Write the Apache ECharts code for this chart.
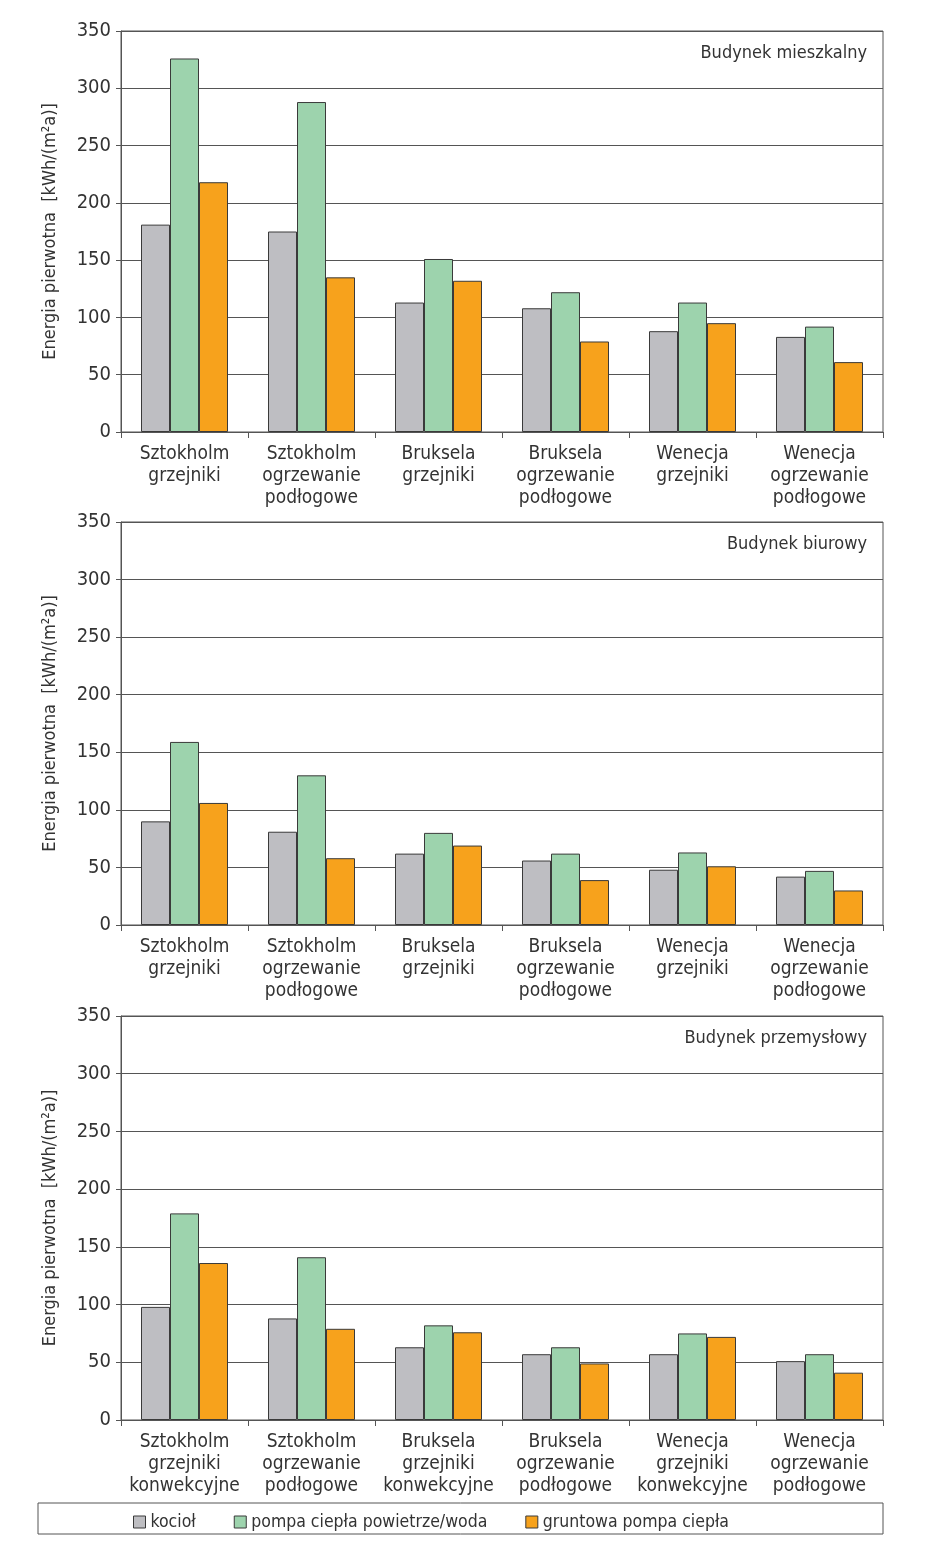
<!DOCTYPE html>
<html>
<head>
<meta charset="utf-8">
<title>Energia pierwotna</title>
<script src="https://cdn.jsdelivr.net/npm/echarts@6/dist/echarts.min.js"></script>
<style>
    html, body { margin: 0; padding: 0; background: #fff; }
    #chart { width: 938px; height: 1567px; }
</style>
</head>
<body>
<div id="chart"></div>
<script>
// kategorie
var catsA = ['Sztokholm\ngrzejniki', 'Sztokholm\nogrzewanie\npodłogowe', 'Bruksela\ngrzejniki',
    'Bruksela\nogrzewanie\npodłogowe', 'Wenecja\ngrzejniki', 'Wenecja\nogrzewanie\npodłogowe'];
var catsC = ['Sztokholm\ngrzejniki\nkonwekcyjne', 'Sztokholm\nogrzewanie\npodłogowe', 'Bruksela\ngrzejniki\nkonwekcyjne',
    'Bruksela\nogrzewanie\npodłogowe', 'Wenecja\ngrzejniki\nkonwekcyjne', 'Wenecja\nogrzewanie\npodłogowe'];

var seriesNames = ['kocioł', 'pompa ciepła powietrze/woda', 'gruntowa pompa ciepła'];
var panelTitles = ['Budynek mieszkalny', 'Budynek biurowy', 'Budynek przemysłowy'];
var yTicks = [0, 50, 100, 150, 200, 250, 300, 350];

// budynek mieszkalny
var mieszKociol = [181, 175, 113, 108, 88, 83];
var mieszPowietrze = [326, 288, 151, 122, 113, 92];
var mieszGrunt = [218, 135, 132, 79, 95, 61];

// budynek biurowy
var biurKociol = [90, 81, 62, 56, 48, 42];
var biurPowietrze = [159, 130, 80, 62, 63, 47];
var biurGrunt = [106, 58, 69, 39, 51, 30];

// budynek przemyslowy
var przemKociol = [98, 88, 63, 57, 57, 51];
var przemPowietrze = [179, 141, 82, 63, 75, 57];
var przemGrunt = [136, 79, 76, 49, 72, 41];

(function (window) {
    var FONT = '"Liberation Sans Narrow", "DejaVu Sans Condensed", "Liberation Sans", sans-serif';
    var TEXT = '#333';
    var LINE = '#555';
    var colors = ['#bebec2', '#9dd3ad', '#f7a21c'];

    var panels = [
        { cats: catsA, data: [mieszKociol, mieszPowietrze, mieszGrunt], top: 31, height: 401 },
        { cats: catsA, data: [biurKociol, biurPowietrze, biurGrunt], top: 522, height: 403 },
        { cats: catsC, data: [przemKociol, przemPowietrze, przemGrunt], top: 1016, height: 404 }
    ];

    var grids = [], xAxes = [], yAxes = [], series = [], titles = [];

    panels.forEach(function (p, i) {
        grids.push({
            left: 121, width: 762, top: p.top, height: p.height,
            show: true, borderColor: LINE, borderWidth: 1, backgroundColor: 'transparent'
        });
        titles.push({
            text: panelTitles[i],
            right: 66, top: p.top + 8,
            textStyle: { fontFamily: FONT, fontSize: 18, fontWeight: 'normal', color: TEXT }
        });
        xAxes.push({
            type: 'category', gridIndex: i, data: p.cats,
            axisLine: { lineStyle: { color: LINE } },
            axisTick: { show: true, length: 6, lineStyle: { color: LINE } },
            axisLabel: { fontFamily: FONT, fontSize: 19, color: TEXT, lineHeight: 22, margin: 11, interval: 0 }
        });
        yAxes.push({
            type: 'value', gridIndex: i, min: yTicks[0], max: yTicks[yTicks.length - 1], interval: 50,
            name: 'Energia pierwotna  [kWh/(m²a)]',
            nameLocation: 'middle', nameGap: 62,
            nameTextStyle: { fontFamily: FONT, fontSize: 18, color: TEXT },
            axisLine: { show: true, lineStyle: { color: LINE } },
            axisTick: { show: true, length: 5, lineStyle: { color: LINE } },
            axisLabel: { fontFamily: FONT, fontSize: 20, color: TEXT, margin: 10 },
            splitLine: { lineStyle: { color: LINE, width: 1 } }
        });
        p.data.forEach(function (vals, k) {
            series.push({
                name: seriesNames[k],
                type: 'bar',
                xAxisIndex: i, yAxisIndex: i,
                data: vals,
                barWidth: 29,
                barGap: '0%',
                itemStyle: { color: colors[k], borderColor: '#3a3a3a', borderWidth: 1 }
            });
        });
    });

    var chart = echarts.init(document.getElementById('chart'));
    chart.setOption({
        animation: false,
        color: colors,
        title: titles,
        grid: grids,
        xAxis: xAxes,
        yAxis: yAxes,
        legend: {
            data: seriesNames,
            left: 128, top: 1508,
            itemWidth: 12, itemHeight: 12, itemGap: 38,
            icon: 'rect',
            itemStyle: { borderColor: '#3a3a3a', borderWidth: 1 },
            textStyle: { fontFamily: FONT, fontSize: 17.5, color: TEXT }
        },
        graphic: [{
            type: 'rect',
            shape: { x: 38, y: 1503, width: 845, height: 31 },
            style: { fill: 'none', stroke: LINE, lineWidth: 1 }
        }],
        series: series
    });
})(window);
</script>
</body>
</html>
